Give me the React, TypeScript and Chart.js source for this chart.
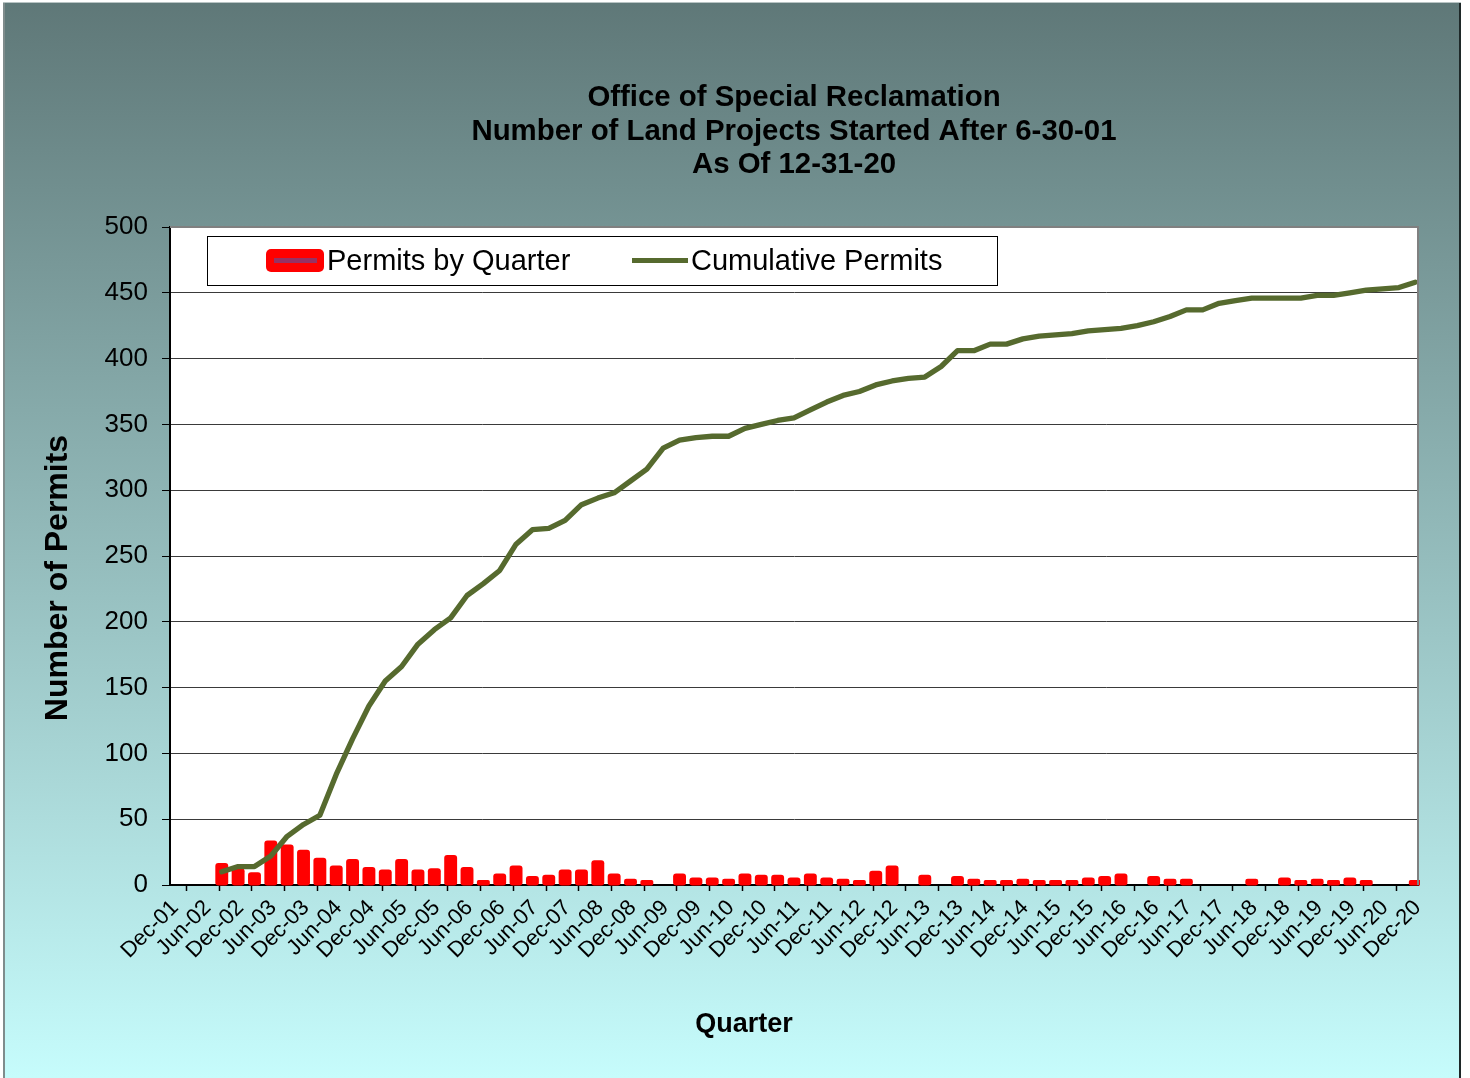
import React, { useEffect, useRef } from 'react';
import { Chart, registerables } from 'chart.js';

Chart.register(...registerables);

const quarters = [
  'Sep-02', 'Dec-02',
  'Mar-03', 'Jun-03', 'Sep-03', 'Dec-03',
  'Mar-04', 'Jun-04', 'Sep-04', 'Dec-04',
  'Mar-05', 'Jun-05', 'Sep-05', 'Dec-05',
  'Mar-06', 'Jun-06', 'Sep-06', 'Dec-06',
  'Mar-07', 'Jun-07', 'Sep-07', 'Dec-07',
  'Mar-08', 'Jun-08', 'Sep-08', 'Dec-08',
  'Mar-09', 'Jun-09', 'Sep-09', 'Dec-09',
  'Mar-10', 'Jun-10', 'Sep-10', 'Dec-10',
  'Mar-11', 'Jun-11', 'Sep-11', 'Dec-11',
  'Mar-12', 'Jun-12', 'Sep-12', 'Dec-12',
  'Mar-13', 'Jun-13', 'Sep-13', 'Dec-13',
  'Mar-14', 'Jun-14', 'Sep-14', 'Dec-14',
  'Mar-15', 'Jun-15', 'Sep-15', 'Dec-15',
  'Mar-16', 'Jun-16', 'Sep-16', 'Dec-16',
  'Mar-17', 'Jun-17', 'Sep-17', 'Dec-17',
  'Mar-18', 'Jun-18', 'Sep-18', 'Dec-18',
  'Mar-19', 'Jun-19', 'Sep-19', 'Dec-19',
  'Mar-20', 'Jun-20', 'Sep-20', 'Dec-20',
];

const permitsByQuarter: (number | null)[] = [
  16, 12,
  9, 33, 30, 26,
  20, 14, 19, 13,
  11, 19, 11, 12,
  22, 13, 3, 8,
  14, 6, 7, 11,
  11, 18, 8, 4,
  3, null, 8, 5,
  5, 4, 8, 7,
  7, 5, 8, 5,
  4, 3, 10, 14,
  null, 7, null, 6,
  4, 3, 3, 4,
  3, 3, 3, 5,
  6, 8, null, 6,
  4, 4, null, null,
  null, 4, null, 5,
  3, 4, 3, 5,
  3, null, null, 3,
];

const cumulativePermits = [
  10, 14,
  14, 22, 37, 46,
  53, 84, 111, 136,
  155, 166, 183, 194,
  203, 220, 229, 239,
  259, 270, 271, 277,
  289, 294, 298, 307,
  316, 332, 338, 340,
  341, 341, 347, 350,
  353, 355, 361, 367,
  372, 375, 380, 383,
  385, 386, 394, 406,
  406, 411, 411, 415,
  417, 418, 419, 421,
  422, 423, 425, 428,
  432, 437, 437, 442,
  444, 446, 446, 446,
  446, 448, 448, 450,
  452, 453, 454, 458,
];

const xTickLabels = [
  'Dec-01', 'Jun-02', 'Dec-02', 'Jun-03', 'Dec-03', 'Jun-04', 'Dec-04', 'Jun-05',
  'Dec-05', 'Jun-06', 'Dec-06', 'Jun-07', 'Dec-07', 'Jun-08', 'Dec-08', 'Jun-09',
  'Dec-09', 'Jun-10', 'Dec-10', 'Jun-11', 'Dec-11', 'Jun-12', 'Dec-12', 'Jun-13',
  'Dec-13', 'Jun-14', 'Dec-14', 'Jun-15', 'Dec-15', 'Jun-16', 'Dec-16', 'Jun-17',
  'Dec-17', 'Jun-18', 'Dec-18', 'Jun-19', 'Dec-19', 'Jun-20', 'Dec-20',
];

const titleLines = [
  'Office of Special Reclamation',
  'Number of Land Projects Started After 6-30-01',
  'As Of 12-31-20',
];
const seriesNames = ['Permits by Quarter', 'Cumulative Permits'];
const yAxisTitle = 'Number of Permits';
const xAxisTitle = 'Quarter';

const Y_MIN = 0;
const Y_MAX = 500;
const Y_STEP = 50;

const MONTHS = ['Jan', 'Feb', 'Mar', 'Apr', 'May', 'Jun', 'Jul', 'Aug', 'Sep', 'Oct', 'Nov', 'Dec'];
const FIRST = xTickLabels[0];

function monthNumber(label: string): number {
  const [m, y] = label.split('-');
  return (2000 + Number(y)) * 12 + MONTHS.indexOf(m);
}
// month slot index on the date axis (slot 0 = first tick month)
function monthIndex(label: string): number {
  return monthNumber(label) - monthNumber(FIRST);
}
const xOf = (label: string) => monthIndex(label) + 0.5;
const X_MAX = monthIndex(xTickLabels[xTickLabels.length - 1]) + 1;

const FONT = "'Liberation Sans', Arial, Helvetica, sans-serif";
const GREEN = '#566a2e';
const RED = '#ff0000';

const decorPlugin = {
  id: 'decor',
  beforeDraw(chart: any) {
    const { ctx, chartArea: a } = chart;
    ctx.save();
    ctx.fillStyle = '#ffffff';
    ctx.fillRect(0, 0, 1470, 1078);
    const g = ctx.createLinearGradient(0, 3, 0, 1078);
    g.addColorStop(0, '#5f7878');
    g.addColorStop(1, '#c6fcfc');
    ctx.fillStyle = g;
    ctx.fillRect(4, 3, 1456, 1075);
    ctx.fillStyle = '#7f8c8c';
    ctx.fillRect(3, 3, 2, 1075);
    ctx.fillStyle = '#b8c4c4';
    ctx.fillRect(3, 2, 1458, 1);
    ctx.fillStyle = '#1e2828';
    ctx.fillRect(1459, 3, 2, 1075);
    ctx.fillStyle = '#ffffff';
    ctx.fillRect(a.left, a.top, a.right - a.left, a.bottom - a.top);
    ctx.restore();
  },
  afterDraw(chart: any) {
    const { ctx, chartArea: a } = chart;
    ctx.save();
    // plot area border (top / right)
    ctx.strokeStyle = '#808080';
    ctx.lineWidth = 2;
    ctx.beginPath();
    ctx.moveTo(a.left, a.top);
    ctx.lineTo(a.right, a.top);
    ctx.lineTo(a.right, a.bottom);
    ctx.stroke();

    // title
    const cx = (a.left + a.right) / 2;
    ctx.fillStyle = '#000';
    ctx.textAlign = 'center';
    ctx.textBaseline = 'alphabetic';
    ctx.font = `bold 29.4px ${FONT}`;
    const baselines = [106, 140, 173];
    titleLines.forEach((t, i) => ctx.fillText(t, cx, baselines[i]));

    // x axis title
    ctx.font = `bold 27px ${FONT}`;
    ctx.fillText(xAxisTitle, 744, 1032);

    // y axis title
    ctx.save();
    ctx.translate(67, 578);
    ctx.rotate(-Math.PI / 2);
    ctx.font = `bold 32px ${FONT}`;
    ctx.fillText(yAxisTitle, 0, 0);
    ctx.restore();

    // legend
    ctx.fillStyle = '#ffffff';
    ctx.fillRect(207, 236, 790, 49);
    ctx.strokeStyle = '#000';
    ctx.lineWidth = 1;
    ctx.strokeRect(207.5, 236.5, 790, 49);
    ctx.fillStyle = RED;
    ctx.beginPath();
    (ctx as any).roundRect(266, 249, 58, 23, 5);
    ctx.fill();
    ctx.fillStyle = '#963264';
    ctx.fillRect(274, 258, 43, 5);
    ctx.strokeStyle = GREEN;
    ctx.lineWidth = 5;
    ctx.beginPath();
    ctx.moveTo(632, 260.5);
    ctx.lineTo(688, 260.5);
    ctx.stroke();
    ctx.fillStyle = '#000';
    ctx.textAlign = 'left';
    ctx.font = `29px ${FONT}`;
    ctx.fillText(seriesNames[0], 327, 270);
    ctx.fillText(seriesNames[1], 691, 270);
    ctx.restore();
  },
};

export default function App() {
  const ref = useRef<HTMLCanvasElement>(null);
  useEffect(() => {
    document.body.style.margin = '0';
    Chart.defaults.font.family = FONT;
    Chart.defaults.color = '#000';
    const canvas = ref.current!;
    const chart = new Chart(canvas, {
      type: 'bar',
      data: {
        datasets: [
          {
            type: 'line',
            label: seriesNames[1],
            data: quarters.map((q, i) => ({ x: xOf(q), y: cumulativePermits[i] })),
            borderColor: GREEN,
            backgroundColor: GREEN,
            borderWidth: 5.3,
            pointRadius: 0,
            tension: 0,
            borderJoinStyle: 'round',
            borderCapStyle: 'round',
            order: 0,
          } as any,
          {
            type: 'bar',
            label: seriesNames[0],
            data: quarters.map((q, i) => ({ x: xOf(q), y: permitsByQuarter[i] })),
            backgroundColor: RED,
            borderWidth: 0,
            barThickness: 10.9,
            inflateAmount: 1,
            borderRadius: 3,
            borderSkipped: false,
            order: 1,
            clip: 2,
          } as any,
        ],
      },
      options: {
        animation: false,
        responsive: false,
        devicePixelRatio: 1,
        layout: { padding: { top: 227, right: 52, left: 0, bottom: 0 } },
        plugins: {
          legend: { display: false },
          title: { display: false },
          tooltip: { enabled: false },
        },
        scales: {
          x: {
            type: 'linear',
            min: 0,
            max: X_MAX,
            bounds: 'data',
            offset: false,
            afterBuildTicks: (s: any) => {
              s.ticks = xTickLabels.map((l) => ({ value: monthIndex(l) }));
            },
            afterFit: (s: any) => {
              s.height = 193;
            },
            ticks: {
              autoSkip: false,
              minRotation: 45,
              maxRotation: 45,
              color: '#000',
              font: { size: 22 },
              padding: 4,
              labelOffset: 5,
              callback: (v: any) => {
                const k = xTickLabels.findIndex((l) => monthIndex(l) === v);
                return k >= 0 ? xTickLabels[k] : null;
              },
            },
            grid: {
              drawOnChartArea: false,
              drawTicks: true,
              tickLength: 6,
              tickColor: '#000',
              tickWidth: 1.5,
            },
            border: { display: true, color: '#000', width: 2 },
          } as any,
          y: {
            min: Y_MIN,
            max: Y_MAX,
            afterFit: (s: any) => {
              s.width = 170;
            },
            ticks: { stepSize: Y_STEP, color: '#000', font: { size: 26 }, padding: 14 },
            grid: { color: '#3a3a3a', lineWidth: 1, tickLength: 8, tickColor: '#000' },
            border: { display: true, color: '#000', width: 2 },
          },
        },
      },
      plugins: [decorPlugin],
    });
    return () => chart.destroy();
  }, []);
  return (
    <canvas
      ref={ref}
      width={1470}
      height={1078}
      style={{ display: 'block', width: 1470, height: 1078 }}
    />
  );
}
